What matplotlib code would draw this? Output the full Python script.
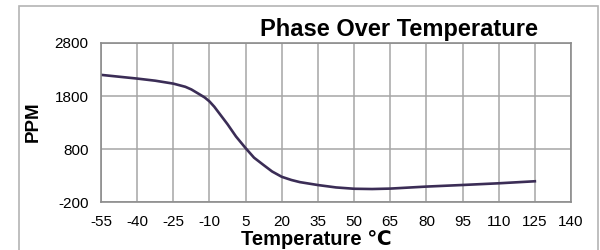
import matplotlib.pyplot as plt
from matplotlib.patches import Rectangle

# values
temps = [-55, -47.5, -40, -32.5, -25, -20, -17.5, -14, -12, -10, -8, -6,
         -2.5, 1, 5, 8.5, 12.5, 16, 20, 24, 27.5, 35, 42.5, 50, 57.5, 65,
         80, 95, 110, 125]
ppm = [2200, 2165, 2130, 2090, 2035, 1975, 1925, 1830, 1775, 1700, 1600,
       1480, 1270, 1040, 820, 640, 500, 380, 280, 220, 180, 125, 80, 55,
       50, 58, 96, 126, 158, 196]
x_ticks = [-55, -40, -25, -10, 5, 20, 35, 50, 65, 80, 95, 110, 125, 140]
y_ticks = [-200, 800, 1800, 2800]

plt.rcParams['font.family'] = ['Liberation Sans', 'DejaVu Sans']
plt.rcParams['axes.unicode_minus'] = False

fig = plt.figure(figsize=(6, 2.5), dpi=100)
ax = fig.add_axes([101 / 600, 1 - 202.3 / 250, 470 / 600, 159.3 / 250])

# outer frame
fig.patches.append(Rectangle((19 / 600, -0.1), 579 / 600, 1.1 - 6 / 250,
                             transform=fig.transFigure, fill=False,
                             edgecolor='#b4b4b4', linewidth=1.2))

ax.plot(temps, ppm, color='#3b2d56', linewidth=1.9,
        solid_joinstyle='round')

ax.set_xlim(-55, 140)
ax.set_ylim(-200, 2800)
ax.set_xticks(x_ticks)
ax.set_yticks(y_ticks)
ax.tick_params(length=0, labelsize=11, pad=9)
ax.grid(True, color='#a6a6a6', linewidth=1.1)
for s in ax.spines.values():
    s.set_color('#8c8c8c')
    s.set_linewidth(1.2)

fig.text(33 / 600, 1 - 122 / 250, 'PPM', rotation=90, ha='center',
         va='center', fontsize=13.5, fontweight='bold')
fig.text(316 / 600, 1 - 245 / 250, 'Temperature ℃', ha='center',
         va='baseline', fontsize=14.5, fontweight='bold')
fig.text(399 / 600, 1 - 36 / 250, 'Phase Over Temperature', ha='center',
         va='baseline', fontsize=17, fontweight='bold')

fig.savefig('out.png')
